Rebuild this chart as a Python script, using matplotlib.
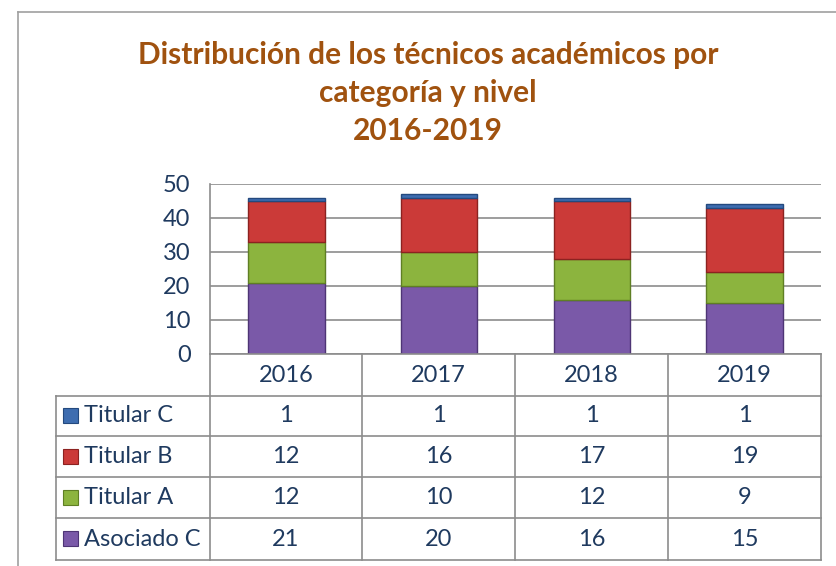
import matplotlib.pyplot as plt
import numpy as np

# Datos de la gráfica
anios = ['2016', '2017', '2018', '2019']
asociado_c = [21, 20, 16, 15]
titular_a = [12, 10, 12, 9]
titular_b = [12, 16, 17, 19]
titular_c = [1, 1, 1, 1]

series = ['Asociado C', 'Titular A', 'Titular B', 'Titular C']
valores = [asociado_c, titular_a, titular_b, titular_c]
colores = ['#7A59A8', '#8CB43E', '#CB3A38', '#3E6DB0']
bordes = ['#4E3575', '#5F7F24', '#8C2220', '#24497E']

plt.rcParams['font.family'] = ['Lato', 'DejaVu Sans']
texto = '#1F3A5F'
gris = '#8C8C8C'

W, H = 837, 566
fig = plt.figure(figsize=(W / 100, H / 100), dpi=100)

def fx(px):
    return px / W

def fy(py):
    return 1 - py / H

# Borde exterior del gráfico
fig.add_artist(plt.Line2D([fx(18), fx(18)], [fy(12), 0], color='#A0A0A0', lw=1.2))
fig.add_artist(plt.Line2D([fx(18), 1], [fy(12), fy(12)], color='#A0A0A0', lw=1.2))

# Título
titulo = ['Distribución de los técnicos académicos por', 'categoría y nivel', '2016-2019']
for j, t in enumerate(titulo):
    fig.text(fx(428), fy(55 + 38 * j), t, ha='center', va='center',
             fontsize=21.5, fontweight='bold', color='#A0520F')

# Área de trazado
izq, der, arriba, abajo = 210, 821, 184, 354
ax = fig.add_axes([fx(izq), fy(abajo), fx(der - izq), (abajo - arriba) / H])
x = np.arange(len(anios))
base = np.zeros(len(anios))
for nombre, vals, c, b in zip(series, valores, colores, bordes):
    ax.bar(x, vals, bottom=base, width=0.5, color=c, edgecolor=b, linewidth=1.0, label=nombre)
    base = base + np.array(vals)

ax.set_xlim(-0.5, len(anios) - 0.5)
ax.set_ylim(0, 50)
ax.set_yticks(range(0, 51, 10))
ax.yaxis.grid(True, color=gris, linewidth=1.2)
ax.set_axisbelow(True)
ax.set_xticks([])
for s in ['top', 'right', 'bottom']:
    ax.spines[s].set_visible(False)
ax.spines['left'].set_color(gris)
ax.spines['left'].set_linewidth(1.2)
ax.tick_params(axis='y', length=0, labelsize=17, labelcolor=texto, pad=14)

# Tabla de datos
col_bordes = [210, 362, 515, 668, 821]
fila_bordes = [354, 396, 436, 477, 518, 560]
tabla_izq = 56

def linea(x0, y0, x1, y1):
    fig.add_artist(plt.Line2D([fx(x0), fx(x1)], [fy(y0), fy(y1)], color=gris, lw=1.2))

linea(izq, 354, der, 354)
for yb in fila_bordes[1:]:
    linea(tabla_izq, yb, der, yb)
for xb in col_bordes:
    linea(xb, 354, xb, 560)
linea(tabla_izq, 396, tabla_izq, 560)

for i, a in enumerate(anios):
    cx = (col_bordes[i] + col_bordes[i + 1]) / 2
    fig.text(fx(cx), fy(376), a, ha='center', va='center', fontsize=17, color=texto)

orden_filas = list(range(len(series)))[::-1]
for r, k in enumerate(orden_filas):
    cy = (fila_bordes[r + 1] + fila_bordes[r + 2]) / 2
    fig.add_artist(plt.Rectangle((fx(63), fy(cy + 7)), fx(15), 15 / H, facecolor=colores[k],
                                 edgecolor=bordes[k], lw=0.8))
    fig.text(fx(84), fy(cy), series[k], ha='left', va='center', fontsize=17, color=texto)
    for i in range(len(anios)):
        cx = (col_bordes[i] + col_bordes[i + 1]) / 2
        fig.text(fx(cx), fy(cy), str(valores[k][i]), ha='center', va='center', fontsize=17, color=texto)

fig.savefig('out.png', dpi=100)
